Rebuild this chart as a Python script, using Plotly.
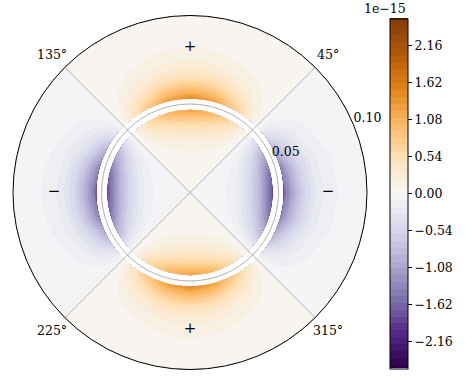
import numpy as np
import plotly.graph_objects as go

# ---- data (field values in units of 1e-15) ----
# radial profiles (normalised to the value at the ring edge)
inner_radii = [0.0, 0.010, 0.015, 0.020, 0.025, 0.030, 0.035, 0.040, 0.043, 0.0467]
inner_profile = [0.001, 0.01, 0.025, 0.05, 0.10, 0.19, 0.33, 0.55, 0.75, 1.0]
outer_radii = [0.0529, 0.056, 0.060, 0.065, 0.070, 0.075, 0.080, 0.090, 0.100]
outer_profile = [1.0, 0.78, 0.55, 0.34, 0.21, 0.13, 0.08, 0.035, 0.015]
# angular variation at the ring edge
angles_deg = [0, 15, 30, 45, 60, 75, 90, 105, 120, 135, 150, 165, 180,
              195, 210, 225, 240, 255, 270, 285, 300, 315, 330, 345, 360]
inner_edge = [-1.75, -1.52, -0.88, 0.0, 0.60, 1.04, 1.20, 1.04, 0.60, 0.0, -0.88, -1.52, -1.75,
              -1.52, -0.88, 0.0, 0.60, 1.04, 1.20, 1.04, 0.60, 0.0, -0.88, -1.52, -1.75]
outer_edge = [-1.60, -1.39, -0.80, 0.0, 0.72, 1.26, 1.45, 1.26, 0.72, 0.0, -0.80, -1.39, -1.60,
              -1.39, -0.80, 0.0, 0.72, 1.26, 1.45, 1.26, 0.72, 0.0, -0.80, -1.39, -1.60]

cbar_ticks = [-2.16, -1.62, -1.08, -0.54, 0.0, 0.54, 1.08, 1.62, 2.16]
cbar_ticktext = ["\u22122.16", "\u22121.62", "\u22121.08", "\u22120.54", "0.00",
                 "0.54", "1.08", "1.62", "2.16"]
angle_ticks = [45, 135, 225, 315]
angle_labels = ["45\u00b0", "135\u00b0", "225\u00b0", "315\u00b0"]
radial_ticks = [0.05, 0.10]
radial_labels = ["0.05", "0.10"]
sign_theta = [90, 270, 180, 0]
sign_r = [0.0822, 0.0771, 0.0768, 0.078]
sign_text = ["+", "+", "\u2212", "\u2212"]

PUOR_R = ['#2d004b', '#542788', '#8073ac', '#b2abd2', '#d8daeb', '#f7f7f7',
          '#fee0b6', '#fdb863', '#e08214', '#b35806', '#7f3b08']
colorscale = [[i / 10, c] for i, c in enumerate(PUOR_R)]
FONT = "DejaVu Serif, Liberation Serif, serif"
FS = 12.5

W, H = 466, 376
cx0, cx1 = 13 / W, 367 / W
cy0, cy1 = (H - 369.5) / H, (H - 15.5) / H
R_MAX = 0.1
LABEL_R = 0.1105  # radius (data units) at which angle labels are centred

th = np.deg2rad(angles_deg)


def grid(radii, profile, edge):
    X = [[r * np.cos(t) for r in radii] for t in th]
    Y = [[r * np.sin(t) for r in radii] for t in th]
    Z = [[p * e for p in profile] for e in edge]
    return X, Y, Z


hidden_axis = dict(showgrid=False, showline=False, startline=False, endline=False,
                   showticklabels='none', minorgridcount=0, smoothing=1)

fig = go.Figure()
contours = dict(start=-2.5, end=2.5, size=0.1, coloring='fill', showlines=False)
for name, radii, profile, edge, show in [("inner", inner_radii, inner_profile, inner_edge, True),
                                         ("outer", outer_radii, outer_profile, outer_edge, False)]:
    X, Y, Z = grid(radii, profile, edge)
    fig.add_trace(go.Carpet(carpet=name, a=radii, b=angles_deg, x=X, y=Y,
                            aaxis=dict(hidden_axis, smoothing=0),
                            baxis=hidden_axis))
    fig.add_trace(go.Contourcarpet(
        carpet=name, a=radii, b=angles_deg, z=Z, autocontour=False,
        contours=contours, colorscale=colorscale, line=dict(width=0),
        showscale=show,
        colorbar=dict(x=390 / W, xanchor='left', y=(H - 193.5) / H, yanchor='middle',
                      len=350 / H, lenmode='fraction', thickness=18, ypad=0, xpad=0,
                      outlinewidth=1, outlinecolor='black',
                      tickvals=cbar_ticks, ticktext=cbar_ticktext,
                      ticks='outside', ticklen=4, tickcolor='black',
                      tickfont=dict(family=FONT, size=FS, color='black'))))

fig.add_trace(go.Scatterpolar(r=radial_ticks, theta=[22.5, 22.5], text=radial_labels,
                              mode='text', textposition='top right',
                              textfont=dict(family=FONT, size=FS, color='black'),
                              hoverinfo='skip', showlegend=False))
fig.add_trace(go.Scatterpolar(r=sign_r, theta=sign_theta, text=sign_text, mode='text',
                              textposition='middle center',
                              textfont=dict(family=FONT, size=15, color='black'),
                              hoverinfo='skip', showlegend=False))

# angle labels just outside the polar frame (placed from the polar domain geometry)
pcx, pcy = (cx0 + cx1) / 2, (cy0 + cy1) / 2
rx, ry = (cx1 - cx0) / 2, (cy1 - cy0) / 2
annotations = [dict(text=lab, x=pcx + rx * LABEL_R / R_MAX * np.cos(np.deg2rad(a)),
                    y=pcy + ry * LABEL_R / R_MAX * np.sin(np.deg2rad(a)),
                    xref='paper', yref='paper', xanchor='center', yanchor='middle',
                    showarrow=False, font=dict(family=FONT, size=FS, color='black'))
               for a, lab in zip(angle_ticks, angle_labels)]
annotations.append(dict(text="1e\u221215", x=408 / W, y=(H - 8) / H, xref='paper',
                        yref='paper', xanchor='right', yanchor='middle', showarrow=False,
                        font=dict(family=FONT, size=FS, color='black')))

fig.update_layout(
    width=W, height=H, margin=dict(l=0, r=0, t=0, b=0, autoexpand=False),
    paper_bgcolor='white', plot_bgcolor='white', showlegend=False,
    xaxis=dict(domain=[cx0, cx1], range=[-R_MAX, R_MAX], visible=False),
    yaxis=dict(domain=[cy0, cy1], range=[-R_MAX, R_MAX], visible=False),
    polar=dict(
        domain=dict(x=[cx0, cx1], y=[cy0, cy1]),
        bgcolor='rgba(0,0,0,0)',
        radialaxis=dict(range=[0, R_MAX], tickvals=radial_ticks, showticklabels=False,
                        showline=False, ticks='', gridcolor='#b0b0b0', gridwidth=1,
                        angle=22.5),
        angularaxis=dict(tickvals=angle_ticks, showticklabels=False, rotation=0,
                         direction='counterclockwise', ticks='',
                         showline=True, linecolor='black', linewidth=1,
                         gridcolor='#b0b0b0', gridwidth=1),
    ),
    annotations=annotations,
)

fig.write_html("out.html", config={'displayModeBar': False},
               post_script="document.body.style.margin='0px';")
